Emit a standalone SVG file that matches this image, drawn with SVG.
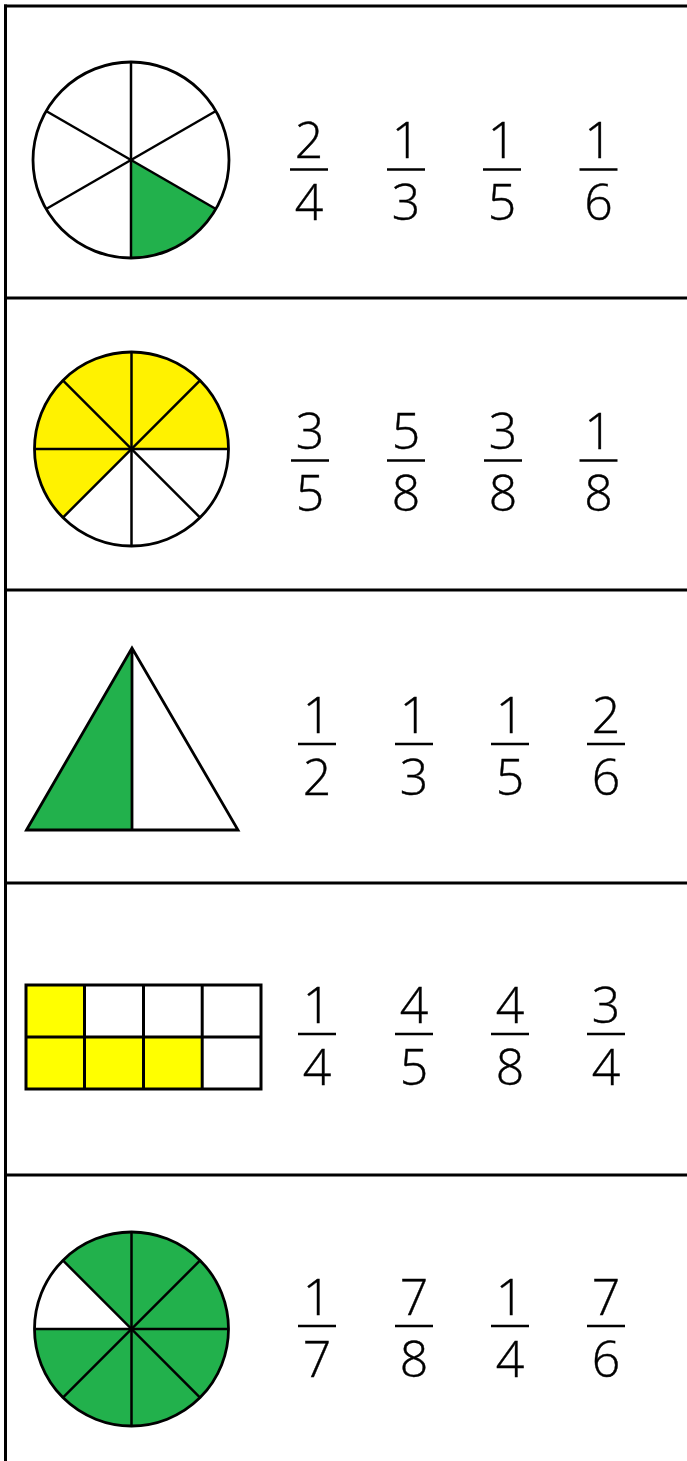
<svg xmlns="http://www.w3.org/2000/svg" width="687" height="1461" viewBox="0 0 687 1461">
<style>
.frame{stroke:#000;stroke-width:3;fill:none}
.ol{stroke:#000;stroke-width:2.8;fill:none}
.sp{stroke:#000;stroke-width:2.5;fill:none}
.g{fill:#22b14c}
.y{fill:#fff200}
.yy{fill:#ffff00}
.num{font-family:"Open Sans","Liberation Sans",sans-serif;font-weight:300;font-size:50px;fill:#000;text-anchor:middle;stroke:#000;stroke-width:0.4}
.bar{stroke:#000;stroke-width:2.5}
</style>
<rect width="687" height="1461" fill="#fff"/>
<g id="table" class="frame">
<line x1="5.5" y1="4.5" x2="5.5" y2="1461"/>
<line x1="4" y1="6" x2="687" y2="6"/>
<line x1="4" y1="298" x2="687" y2="298"/>
<line x1="4" y1="590" x2="687" y2="590"/>
<line x1="4" y1="883" x2="687" y2="883"/>
<line x1="4" y1="1175" x2="687" y2="1175"/>
</g>
<g id="row1">
<path class="g" d="M131,160 L131,258 A98,98 0 0 0 215.9,209 Z"/>
<g class="sp">
<line x1="131" y1="62" x2="131" y2="258"/>
<line x1="46.1" y1="111" x2="215.9" y2="209"/>
<line x1="46.1" y1="209" x2="215.9" y2="111"/>
</g>
<circle class="ol" cx="131" cy="160" r="98"/>
<g>
<text class="num" x="309" y="158">2</text><line class="bar" x1="290" y1="169.5" x2="328" y2="169.5"/><text class="num" x="309" y="220">4</text>
<text class="num" x="406" y="158">1</text><line class="bar" x1="387" y1="169.5" x2="425" y2="169.5"/><text class="num" x="406" y="220">3</text>
<text class="num" x="502" y="158">1</text><line class="bar" x1="483" y1="169.5" x2="521" y2="169.5"/><text class="num" x="502" y="220">5</text>
<text class="num" x="598.5" y="158">1</text><line class="bar" x1="579.5" y1="169.5" x2="617.5" y2="169.5"/><text class="num" x="598.5" y="220">6</text>
</g>
</g>
<g id="row2">
<path class="y" d="M131.5,449 L62.9,517.6 A97,97 0 1 1 228.5,449 Z"/>
<g class="sp">
<line x1="131.5" y1="352" x2="131.5" y2="546"/>
<line x1="34.5" y1="449" x2="228.5" y2="449"/>
<line x1="62.9" y1="380.4" x2="200.1" y2="517.6"/>
<line x1="62.9" y1="517.6" x2="200.1" y2="380.4"/>
</g>
<circle class="ol" cx="131.5" cy="449" r="97"/>
<g>
<text class="num" x="310" y="449">3</text><line class="bar" x1="291" y1="460.5" x2="329" y2="460.5"/><text class="num" x="310" y="511">5</text>
<text class="num" x="406" y="449">5</text><line class="bar" x1="387" y1="460.5" x2="425" y2="460.5"/><text class="num" x="406" y="511">8</text>
<text class="num" x="503" y="449">3</text><line class="bar" x1="484" y1="460.5" x2="522" y2="460.5"/><text class="num" x="503" y="511">8</text>
<text class="num" x="598.5" y="449">1</text><line class="bar" x1="579.5" y1="460.5" x2="617.5" y2="460.5"/><text class="num" x="598.5" y="511">8</text>
</g>
</g>
<g id="row3">
<path class="g" d="M26.5,830 L132,648 L132,830 Z"/>
<path class="ol" d="M26.5,830 L132,648 L238,830 Z M132,648 L132,830"/>
<g>
<text class="num" x="317" y="733">1</text><line class="bar" x1="298" y1="744" x2="336" y2="744"/><text class="num" x="317" y="795">2</text>
<text class="num" x="414" y="733">1</text><line class="bar" x1="395" y1="744" x2="433" y2="744"/><text class="num" x="414" y="795">3</text>
<text class="num" x="510" y="733">1</text><line class="bar" x1="491" y1="744" x2="529" y2="744"/><text class="num" x="510" y="795">5</text>
<text class="num" x="606" y="733">2</text><line class="bar" x1="587" y1="744" x2="625" y2="744"/><text class="num" x="606" y="795">6</text>
</g>
</g>
<g id="row4">
<rect class="yy" x="26" y="985" width="58.5" height="52"/>
<rect class="yy" x="26" y="1037" width="176" height="52"/>
<g class="frame">
<rect x="26" y="985" width="235" height="104"/>
<line x1="26" y1="1037" x2="261" y2="1037"/>
<line x1="84.5" y1="985" x2="84.5" y2="1089"/>
<line x1="143.5" y1="985" x2="143.5" y2="1089"/>
<line x1="202.2" y1="985" x2="202.2" y2="1089"/>
</g>
<g>
<text class="num" x="317" y="1023">1</text><line class="bar" x1="298" y1="1034" x2="336" y2="1034"/><text class="num" x="317" y="1085">4</text>
<text class="num" x="414" y="1023">4</text><line class="bar" x1="395" y1="1034" x2="433" y2="1034"/><text class="num" x="414" y="1085">5</text>
<text class="num" x="510" y="1023">4</text><line class="bar" x1="491" y1="1034" x2="529" y2="1034"/><text class="num" x="510" y="1085">8</text>
<text class="num" x="606" y="1023">3</text><line class="bar" x1="587" y1="1034" x2="625" y2="1034"/><text class="num" x="606" y="1085">4</text>
</g>
</g>
<g id="row5">
<circle class="g" cx="131.5" cy="1329" r="97"/>
<path fill="#fff" d="M131.5,1329 L34.5,1329 A97,97 0 0 1 62.9,1260.4 Z"/>
<g class="sp">
<line x1="131.5" y1="1232" x2="131.5" y2="1426"/>
<line x1="34.5" y1="1329" x2="228.5" y2="1329"/>
<line x1="62.9" y1="1260.4" x2="200.1" y2="1397.6"/>
<line x1="62.9" y1="1397.6" x2="200.1" y2="1260.4"/>
</g>
<circle class="ol" cx="131.5" cy="1329" r="97"/>
<g>
<text class="num" x="317" y="1315">1</text><line class="bar" x1="298" y1="1326" x2="336" y2="1326"/><text class="num" x="317" y="1377">7</text>
<text class="num" x="414" y="1315">7</text><line class="bar" x1="395" y1="1326" x2="433" y2="1326"/><text class="num" x="414" y="1377">8</text>
<text class="num" x="510" y="1315">1</text><line class="bar" x1="491" y1="1326" x2="529" y2="1326"/><text class="num" x="510" y="1377">4</text>
<text class="num" x="606" y="1315">7</text><line class="bar" x1="587" y1="1326" x2="625" y2="1326"/><text class="num" x="606" y="1377">6</text>
</g>
</g>
</svg>
